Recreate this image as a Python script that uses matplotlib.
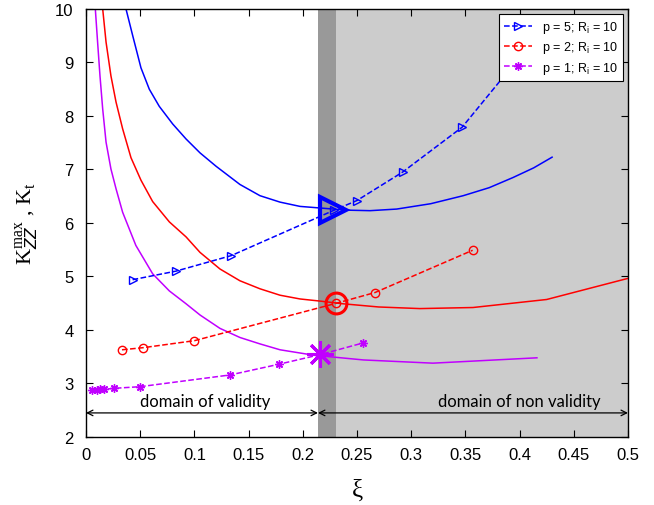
import matplotlib
matplotlib.use('Agg')
import matplotlib.pyplot as plt
import numpy as np

# ---------- data ----------
# solid curves K_zz^max(xi)
xi_p5 = [0.0369, 0.0431, 0.0507, 0.0584, 0.0676, 0.080, 0.0923, 0.1052, 0.120, 0.142, 0.1605,
         0.179, 0.1974, 0.216, 0.2405, 0.262, 0.2866, 0.318, 0.348, 0.372, 0.394, 0.413, 0.430]
k_p5 = [10.0, 9.50, 8.90, 8.50, 8.18, 7.85, 7.57, 7.31, 7.06, 6.72, 6.51,
        6.39, 6.31, 6.28, 6.24, 6.23, 6.26, 6.36, 6.51, 6.66, 6.85, 7.03, 7.23]

xi_p2 = [0.0154, 0.0185, 0.023, 0.0277, 0.0338, 0.0415, 0.0507, 0.0615, 0.0769, 0.0923, 0.1052,
         0.1236, 0.142, 0.1605, 0.179, 0.1974, 0.216, 0.237, 0.270, 0.308, 0.357, 0.425, 0.501]
k_p2 = [10.0, 9.38, 8.75, 8.26, 7.76, 7.22, 6.80, 6.40, 6.02, 5.74, 5.45,
        5.14, 4.92, 4.77, 4.65, 4.58, 4.54, 4.49, 4.43, 4.40, 4.42, 4.57, 4.97]

xi_p1 = [0.0086, 0.0107, 0.0129, 0.0154, 0.0185, 0.023, 0.0277, 0.0338, 0.046, 0.0615, 0.0769,
         0.0923, 0.1052, 0.1236, 0.142, 0.1605, 0.179, 0.1974, 0.2097, 0.225, 0.256, 0.320, 0.416]
k_p1 = [10.0, 9.38, 8.75, 8.13, 7.51, 7.01, 6.64, 6.20, 5.58, 5.05, 4.73,
        4.49, 4.28, 4.03, 3.86, 3.74, 3.63, 3.57, 3.53, 3.50, 3.44, 3.38, 3.48]

# dashed curves K_t(xi) with markers
xi_t5 = [0.043, 0.083, 0.134, 0.229, 0.250, 0.292, 0.347, 0.398]
kt_5 = [4.94, 5.10, 5.39, 6.24, 6.42, 6.95, 7.79, 9.05]

xi_t2 = [0.0332, 0.053, 0.100, 0.231, 0.2666, 0.3567]
kt_2 = [3.63, 3.67, 3.80, 4.50, 4.70, 5.49]

xi_t1 = [0.0052, 0.0098, 0.013, 0.0166, 0.026, 0.0498, 0.133, 0.178, 0.216, 0.256]
kt_1 = [2.88, 2.88, 2.89, 2.89, 2.91, 2.94, 3.16, 3.36, 3.54, 3.76]

# limit points (large markers)
lim_xi = [0.228, 0.231, 0.216]
lim_k = [6.24, 4.51, 3.55]

labels = ['p = 5; R$_\\mathregular{i}$ = 10', 'p = 2; R$_\\mathregular{i}$ = 10', 'p = 1; R$_\\mathregular{i}$ = 10']
band = [0.214, 0.231]

c_blue = '#0000ff'
c_red = '#ff0000'
c_mag = '#c000ff'
star = (8, 2, 0)

plt.rcParams['font.family'] = ['Liberation Sans', 'DejaVu Sans']

fig = plt.figure(figsize=(6.54, 5.06), dpi=100)
ax = fig.add_axes([0.1315, 0.1344, 0.8287, 0.8459])

ax.axvspan(band[1], 0.5, color='#cccccc', zorder=0, lw=0)
ax.axvspan(band[0], band[1], color='#999999', zorder=0, lw=0)

ax.plot(xi_p5, k_p5, '-', color=c_blue, lw=1.1)
ax.plot(xi_p2, k_p2, '-', color=c_red, lw=1.1)
ax.plot(xi_p1, k_p1, '-', color=c_mag, lw=1.1)

l5, = ax.plot(xi_t5, kt_5, '--', color=c_blue, lw=1.1, marker='>', mfc='none', ms=6)
l2, = ax.plot(xi_t2, kt_2, '--', color=c_red, lw=1.1, marker='o', mfc='none', ms=6)
l1, = ax.plot(xi_t1, kt_1, '--', color=c_mag, lw=1.1, marker=star, ms=6)

ax.plot(lim_xi[0], lim_k[0], marker='>', mfc='none', mec=c_blue, ms=19, mew=3)
ax.plot(lim_xi[1], lim_k[1], marker='o', mfc='none', mec=c_red, ms=15, mew=2.2)
ax.plot(lim_xi[2], lim_k[2], marker=star, mec=c_mag, ms=19, mew=2.2)

# domain annotations
arr = dict(arrowstyle='<->', color='black', lw=0.9, shrinkA=0, shrinkB=0)
ax.annotate('', xy=(0, 2.45), xytext=(band[0], 2.45), arrowprops=arr)
ax.annotate('', xy=(band[0], 2.45), xytext=(0.5, 2.45), arrowprops=arr)
ax.text(0.11, 2.68, 'domain of validity', ha='center', va='center', fontsize=12, family='Lato')
ax.text(0.40, 2.68, 'domain of non validity', ha='center', va='center', fontsize=12, family='Lato')

ax.set_xlim(0, 0.5)
ax.set_ylim(2, 10)
ax.set_xticks(np.arange(0, 0.501, 0.05))
ax.set_xticklabels(['0', '0.05', '0.1', '0.15', '0.2', '0.25', '0.3', '0.35', '0.4', '0.45', '0.5'])
ax.set_yticks(range(2, 11))
ax.tick_params(direction='in', top=True, right=True, labelsize=12, length=5, width=0.8)
ax.tick_params(axis='x', pad=7)
ax.tick_params(axis='y', pad=9)
for s in ax.spines.values():
    s.set_linewidth(1.0)

ax.set_xlabel('\u03be', fontsize=18, family='Liberation Serif', labelpad=12)
ax.set_ylabel('K$_{ZZ}^{\\mathregular{max}}$ , K$_\\mathregular{t}$', fontsize=16,
              family='Liberation Serif', labelpad=10)

leg = ax.legend([l5, l2, l1], labels, loc='upper right', fontsize=9, frameon=True, fancybox=False,
                edgecolor='black', framealpha=1, handlelength=2.2, borderaxespad=0.4,
                labelspacing=0.35)
leg.get_frame().set_linewidth(0.8)
leg.set_zorder(10)

fig.savefig('out.png', dpi=100)
